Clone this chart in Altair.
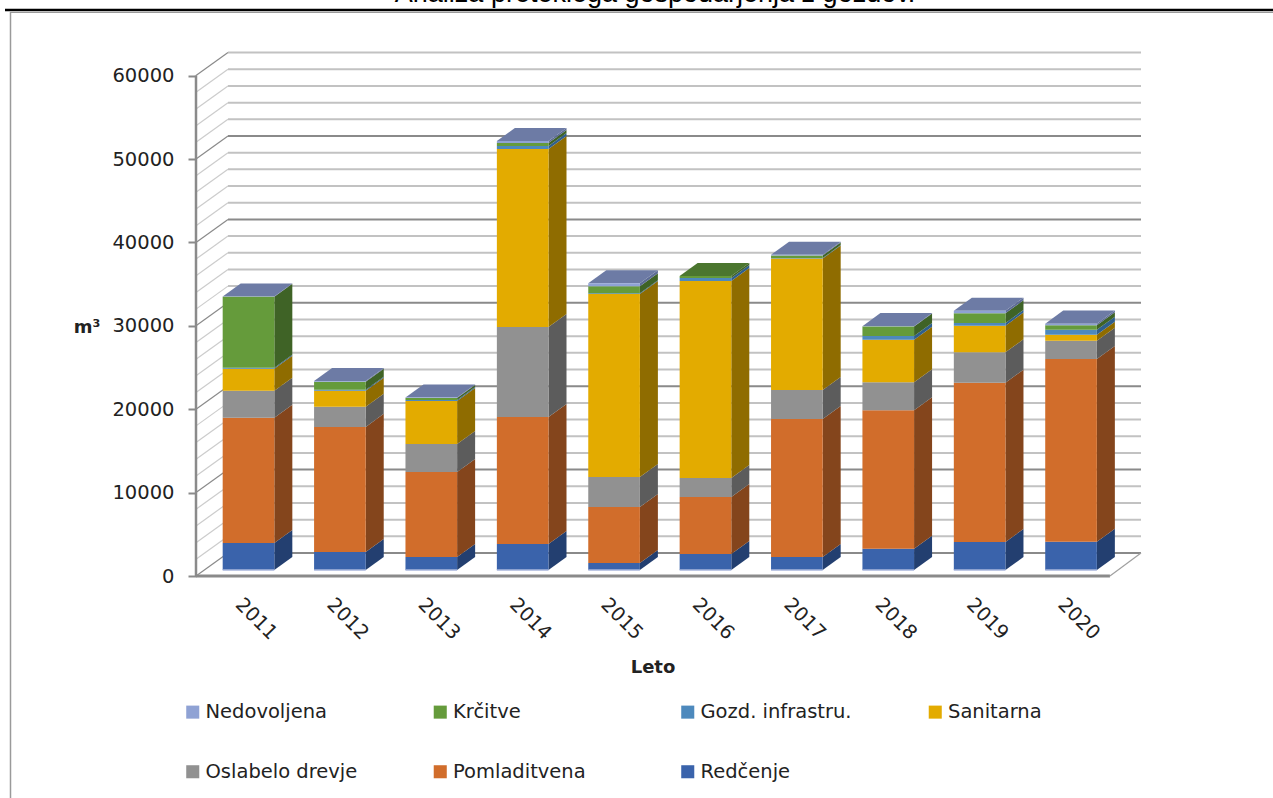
import altair as alt
import pandas as pd

# Harvest volumes in m3 per year, one list per felling category
years = [2011, 2012, 2013, 2014, 2015, 2016, 2017, 2018, 2019, 2020]
series = ["Nedovoljena", "Krčitve", "Gozd. infrastru.", "Sanitarna",
          "Oslabelo drevje", "Pomladitvena", "Redčenje"]

redcenje = [3240, 2160, 1560, 3120, 840, 1920, 1560, 2560, 3360, 3400]
pomladitvena = [15000, 15000, 10190, 15230, 6710, 6830, 16550, 16600, 19100, 21900]
oslabelo = [3240, 2400, 3360, 10790, 3600, 2280, 3480, 3360, 3650, 2200]
sanitarna = [2640, 1920, 5160, 21340, 21940, 23620, 15750, 5100, 3190, 720]
infrastruktura = [120, 120, 100, 360, 100, 360, 60, 430, 320, 600]
krcitve = [8510, 960, 240, 360, 840, 240, 300, 1160, 1160, 520]
nedovoljena = [30, 100, 60, 240, 340, 0, 100, 30, 310, 200]

stack_order = [("Redčenje", redcenje), ("Pomladitvena", pomladitvena),
               ("Oslabelo drevje", oslabelo), ("Sanitarna", sanitarna),
               ("Gozd. infrastru.", infrastruktura), ("Krčitve", krcitve),
               ("Nedovoljena", nedovoljena)]

front_colors = {"Nedovoljena": "#8FA2D4", "Krčitve": "#659B3B", "Gozd. infrastru.": "#4D89BD",
                "Sanitarna": "#E3AB00", "Oslabelo drevje": "#919191",
                "Pomladitvena": "#D16D2B", "Redčenje": "#3A63AB"}
side_colors = {"Nedovoljena": "#5D6C96", "Krčitve": "#3F6326", "Gozd. infrastru.": "#2F5F8C",
               "Sanitarna": "#8F6C00", "Oslabelo drevje": "#5C5C5C",
               "Pomladitvena": "#84451C", "Redčenje": "#233F70"}
top_colors = {"Nedovoljena": "#6D7BA5", "Krčitve": "#4B762F"}

# Oblique projection: the back wall is shifted right and up from the front plane
WALL_DX, WALL_DY = 0.35, 2758
BAR_LEFT, BAR_WIDTH = 0.292, 0.565
BAR_DX, BAR_DY = 0.197, 1560
BAR_BASE = 720
X_MAX, Y_MAX = 10.34, 62830
PLOT_W, PLOT_H = 945, 524
LEFT, TOP = 196, 52

x_scale = alt.Scale(domain=[0, X_MAX], nice=False, zero=False)
y_scale = alt.Scale(domain=[0, Y_MAX], nice=False, zero=False)

front_rows, side_rows, top_rows, foot_rows = [], [], [], []
for i, year in enumerate(years):
    base = BAR_BASE
    left = i + BAR_LEFT
    right = left + BAR_WIDTH
    foot_rows.append(dict(x0=left, x1=right, y=BAR_BASE))
    last = None
    for name, values in stack_order:
        v = values[i]
        if v == 0:
            continue
        front_rows.append(dict(series=name, x0=left, x1=right, y0=base, y1=base + v))
        for dx, dy in ((0, 0), (BAR_DX, BAR_DY)):
            side_rows.append(dict(key=f"{year}-{name}", shade=side_colors[name],
                                  x=right + dx, y0=base + dy, y1=base + v + dy))
        base += v
        last = name
    for dx, dy in ((0, 0), (BAR_DX, BAR_DY)):
        top_rows.append(dict(key=str(year), shade=top_colors[last],
                             y=base + dy, x0=left + dx, x1=right + dx))

# Walls and floor of the chart box
grid_levels = list(range(0, 60001, 2000))
wall_rows = []
for level in grid_levels:
    major = level % 10000 == 0 and level < 60000
    wall_rows.append(dict(x0=WALL_DX, x1=X_MAX, y0=level + WALL_DY, y1=level + WALL_DY,
                          tone="#8A8A8A" if major else "#C2C2C2", weight=2))
    wall_rows.append(dict(x0=0, x1=WALL_DX, y0=level, y1=level + WALL_DY,
                          tone="#8A8A8A" if level % 10000 == 0 else "#CCCCCC", weight=1.2))
wall_rows.append(dict(x0=10, x1=X_MAX, y0=0, y1=WALL_DY, tone="#A0A0A0", weight=1.2))
wall_rows.append(dict(x0=0, x1=10, y0=0, y1=0, tone="#8A8A8A", weight=3))

walls = alt.Chart(pd.DataFrame(wall_rows)).mark_rule().encode(
    x=alt.X("x0:Q", scale=x_scale, axis=None),
    x2="x1:Q",
    y=alt.Y("y0:Q", scale=y_scale,
            axis=alt.Axis(values=list(range(0, 60001, 10000)), title=None, grid=False,
                          labelFont="DejaVu Sans", labelFontSize=19.5, labelColor="#222222",
                          labelPadding=14, tickSize=8, tickColor="#8A8A8A", tickWidth=2,
                          domain=False, format="d")),
    y2="y1:Q",
    color=alt.Color("tone:N", scale=None),
    strokeWidth=alt.StrokeWidth("weight:Q", scale=None),
)

# Front vertical edge of the left wall, only as tall as the value axis
edge = alt.Chart(pd.DataFrame({"x": [0], "y0": [0], "y1": [60000]})).mark_rule(
    color="#8A8A8A", strokeWidth=2.5
).encode(x=alt.X("x:Q", scale=x_scale), y=alt.Y("y0:Q", scale=y_scale), y2="y1:Q")

side = alt.Chart(pd.DataFrame(side_rows)).mark_area(interpolate="linear").encode(
    x=alt.X("x:Q", scale=x_scale, stack=None),
    y=alt.Y("y0:Q", scale=y_scale, stack=None),
    y2="y1:Q",
    detail="key:N",
    color=alt.Color("shade:N", scale=None),
)

top = alt.Chart(pd.DataFrame(top_rows)).mark_area(orient="horizontal", interpolate="linear").encode(
    y=alt.Y("y:Q", scale=y_scale, stack=None),
    x=alt.X("x0:Q", scale=x_scale, stack=None),
    x2="x1:Q",
    detail="key:N",
    color=alt.Color("shade:N", scale=None),
)

front = alt.Chart(pd.DataFrame(front_rows)).mark_rect().encode(
    x=alt.X("x0:Q", scale=x_scale),
    x2="x1:Q",
    y=alt.Y("y0:Q", scale=y_scale),
    y2="y1:Q",
    color=alt.Color(
        "series:N",
        scale=alt.Scale(domain=series, range=[front_colors[s] for s in series]),
        legend=alt.Legend(
            title=None, orient="none", legendX=-13, legendY=650, columns=4,
            direction="horizontal", gridAlign="all", columnPadding=72.5, rowPadding=39,
            symbolType="square", symbolSize=170, symbolStrokeWidth=0, symbolOpacity=1,
            labelOffset=3, labelFont="DejaVu Sans", labelFontSize=19.5, labelColor="#222222",
            labelLimit=400,
        ),
    ),
)

# Pale line along the foot of each column
foot = alt.Chart(pd.DataFrame(foot_rows)).mark_rule(color="#A9B6DC", strokeWidth=1.5).encode(
    x=alt.X("x0:Q", scale=x_scale), x2="x1:Q", y=alt.Y("y:Q", scale=y_scale),
)

year_labels = alt.Chart(pd.DataFrame({"x": [i + 0.66 for i in range(len(years))],
                                      "label": [str(y) for y in years]})).mark_text(
    angle=45, font="DejaVu Sans", fontSize=19.5, color="#222222", align="center", baseline="middle"
).encode(x=alt.X("x:Q", scale=x_scale), y=alt.value(619 - TOP), text="label:N")


def caption(text, px, py, size=19.5, weight="normal", color="#222222", font="DejaVu Sans"):
    return alt.Chart(pd.DataFrame({"t": [text]})).mark_text(
        font=font, fontSize=size, fontWeight=weight, color=color, align="center", baseline="alphabetic"
    ).encode(x=alt.value(px - LEFT), y=alt.value(py - TOP), text="t:N")


def frame_line(x0, x1, y0, y1, color, width):
    return alt.Chart(pd.DataFrame({"a": [0]})).mark_rule(
        color=color, strokeWidth=width, clip=False
    ).encode(x=alt.value(x0 - LEFT), x2=alt.value(x1 - LEFT),
             y=alt.value(y0 - TOP), y2=alt.value(y1 - TOP))


chart = alt.layer(
    walls, edge, side, top, front, foot, year_labels,
    caption("Leto", 653, 673, size=18, weight="bold"),
    caption("m³", 87, 333, size=18, weight="bold"),
    caption("Analiza preteklega gospodarjenja z gozdov.", 655, 2, size=27,
            font="Liberation Sans", color="#000000"),
    frame_line(5, 1273, 10, 10, "#000000", 2.5),
    frame_line(10, 1273, 12.5, 12.5, "#9A9A9A", 1.2),
    frame_line(10.5, 10.5, 12, 798, "#9A9A9A", 1.5),
).properties(
    width=PLOT_W, height=PLOT_H,
    padding={"left": LEFT, "top": TOP, "right": 1273 - LEFT - PLOT_W, "bottom": 798 - TOP - PLOT_H},
    autosize=alt.AutoSizeParams(type="none"),
    background="#FFFFFF",
).configure_view(stroke=None)

chart.save("out.html", embed_options={"renderer": "svg", "actions": False})
